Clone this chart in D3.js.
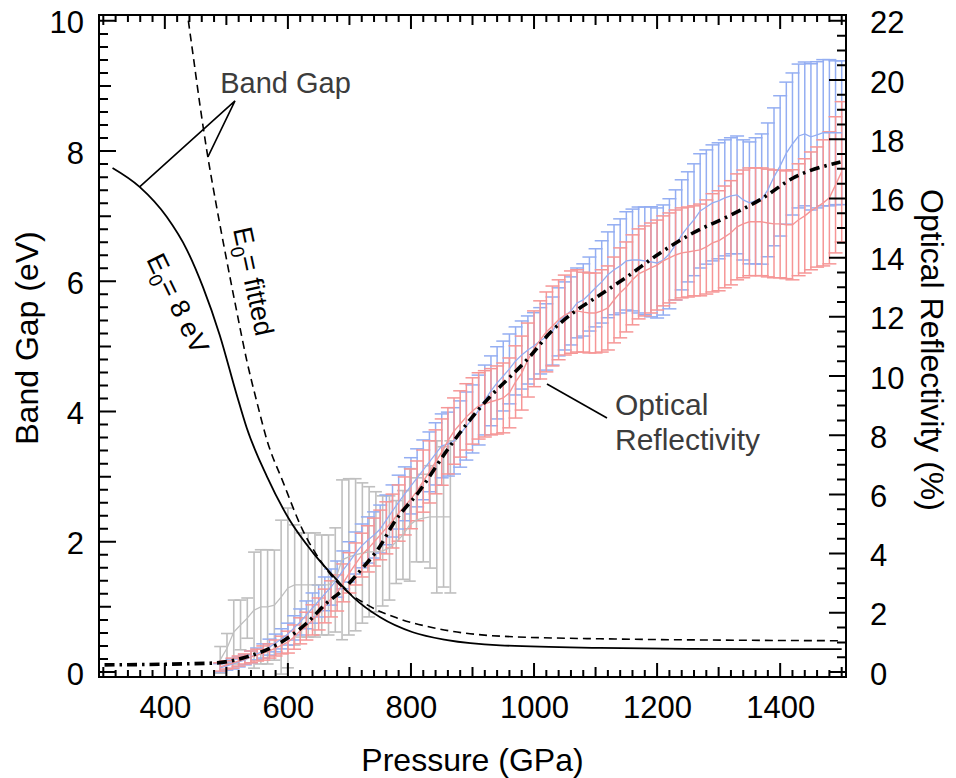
<!DOCTYPE html>
<html>
<head>
<meta charset="utf-8">
<script src="https://cdn.jsdelivr.net/npm/d3@7"></script>
<style>
  body { margin: 0; background: #fff; }
  svg { display: block; font-family: "Liberation Sans", Arial, Helvetica, sans-serif; }
</style>
</head>
<body>
<svg id="chart" width="956" height="778"></svg>
<script>
// ---------- data ----------
// Band gap models (pressure GPa, gap eV)
const gapFixedP = [315, 359, 403, 436, 462, 489, 517, 533, 566, 603, 641, 680, 706, 750, 803, 859, 945, 1107, 1250, 1500];
const gapFixedE = [7.74, 7.45, 6.99, 6.48, 5.91, 5.18, 4.25, 3.75, 3.00, 2.33, 1.83, 1.41, 1.15, 0.84, 0.61, 0.49, 0.41, 0.37, 0.355, 0.35];
const gapFitP = [430, 437, 447, 457, 468, 485, 501, 517, 533, 550, 566, 592, 624, 652, 680, 729, 777, 836, 945, 1107, 1500];
const gapFitE = [10.6, 10.09, 9.40, 8.71, 8.02, 7.10, 6.30, 5.53, 4.79, 4.13, 3.56, 2.92, 2.18, 1.72, 1.38, 1.03, 0.83, 0.68, 0.55, 0.51, 0.48];

// Reflectivity trend (pressure GPa, reflectivity %)
const trendP = [302, 478, 533, 587, 631, 663, 689, 717, 750, 771, 815, 859, 896, 928, 956, 993, 1026, 1063, 1102, 1151, 1205, 1259, 1314, 1367, 1421, 1498];
const trendR = [0.24, 0.30, 0.51, 0.98, 1.66, 2.33, 2.77, 3.41, 4.26, 5.00, 6.15, 7.50, 8.52, 9.29, 9.87, 10.65, 11.46, 12.13, 12.67, 13.35, 14.16, 14.84, 15.38, 15.95, 16.69, 17.23];

// Gray reflectivity series
const grayP = [490, 501, 512, 523, 534, 545, 556, 567, 578, 589, 600, 611, 622, 633, 644, 655, 666, 677, 688, 699, 710, 721, 732, 743, 754, 765, 776, 787, 798, 809, 820, 831, 842, 853, 864];
const grayR = [0.41, 0.80, 1.35, 1.59, 1.82, 2.09, 2.20, 2.20, 2.26, 2.53, 2.84, 2.94, 2.94, 2.94, 2.94, 2.94, 2.94, 3.11, 3.79, 3.89, 3.96, 4.02, 4.06, 4.06, 4.09, 4.19, 4.39, 4.63, 4.97, 5.14, 5.20, 5.24, 5.24, 5.24, 5.24];
const grayErr = [0.45, 0.50, 1.08, 0.84, 0.68, 1.96, 1.93, 1.93, 1.86, 2.60, 2.70, 2.03, 1.76, 1.76, 1.76, 1.69, 1.69, 1.76, 2.70, 2.64, 2.57, 2.37, 2.20, 2.03, 1.86, 1.76, 1.40, 1.50, 1.90, 1.42, 1.48, 1.73, 2.57, 2.37, 2.57];

// Blue and pink reflectivity series share the pressure grid
const seriesP = [
  490, 500, 510, 520, 530, 540, 550, 560, 570, 580,
  590, 600, 610, 620, 630, 640, 650, 660, 670, 680,
  690, 700, 710, 720, 730, 740, 750, 760, 770, 780,
  790, 800, 810, 820, 830, 840, 850, 860, 870, 880,
  890, 900, 910, 920, 930, 940, 950, 960, 970, 980,
  990, 1000, 1010, 1020, 1030, 1040, 1050, 1060, 1070, 1080,
  1090, 1100, 1110, 1120, 1130, 1140, 1150, 1160, 1170, 1180,
  1190, 1200, 1210, 1220, 1230, 1240, 1250, 1260, 1270, 1280,
  1290, 1300, 1310, 1320, 1330, 1340, 1350, 1360, 1370, 1380,
  1390, 1400, 1410, 1420, 1430, 1440, 1450, 1460, 1470, 1480,
  1490, 1500];

const blueR = [
  0.14, 0.20, 0.27, 0.34, 0.41, 0.51, 0.61, 0.71, 0.84, 0.98,
  1.12, 1.28, 1.49, 1.69, 1.93, 2.16, 2.40, 2.64, 2.87, 3.14,
  3.45, 3.72, 4.02, 4.26, 4.46, 4.63, 4.83, 5.14, 5.44, 5.74,
  6.02, 6.29, 6.56, 6.83, 7.10, 7.37, 7.64, 7.70, 7.81, 8.04,
  8.31, 8.55, 8.85, 9.19, 9.50, 9.77, 10.00, 10.24, 10.51, 10.71,
  10.88, 11.02, 11.19, 11.32, 11.52, 11.83, 12.03, 12.20, 12.47, 12.57,
  12.77, 12.98, 13.18, 13.42, 13.59, 13.72, 13.89, 13.92, 13.92, 13.89,
  13.86, 13.82, 13.92, 14.13, 14.43, 14.77, 15.04, 15.28, 15.58, 15.71,
  15.85, 15.92, 16.02, 16.09, 16.12, 15.95, 15.85, 15.92, 15.98, 16.29,
  16.73, 17.10, 17.53, 17.84, 18.11, 18.18, 18.08, 18.15, 18.22, 18.22,
  18.22, 18.22];
const blueErr = [
  0.14, 0.14, 0.17, 0.17, 0.17, 0.20, 0.20, 0.24, 0.27, 0.30,
  0.34, 0.37, 0.41, 0.44, 0.47, 0.51, 0.54, 0.57, 0.61, 0.61,
  0.64, 0.68, 0.71, 0.74, 0.78, 0.78, 0.81, 0.84, 0.88, 0.91,
  0.91, 0.95, 0.98, 1.01, 1.01, 1.05, 1.08, 1.08, 1.12, 1.12,
  1.15, 1.15, 1.18, 1.18, 1.18, 1.22, 1.18, 1.18, 1.15, 1.15,
  1.15, 1.12, 1.12, 1.12, 1.15, 1.15, 1.15, 1.15, 1.18, 1.22,
  1.25, 1.32, 1.39, 1.45, 1.52, 1.59, 1.66, 1.72, 1.79, 1.82,
  1.86, 1.86, 1.86, 1.86, 1.86, 1.86, 1.86, 1.89, 1.93, 1.93,
  1.96, 1.96, 1.96, 1.96, 1.99, 2.03, 2.06, 2.13, 2.20, 2.26,
  2.33, 2.37, 2.40, 2.40, 2.43, 2.43, 2.47, 2.47, 2.47, 2.47,
  2.43, 2.43];

const pinkR = [
  0.17, 0.24, 0.30, 0.37, 0.44, 0.51, 0.57, 0.64, 0.71, 0.81,
  0.91, 1.01, 1.18, 1.39, 1.55, 1.76, 1.96, 2.23, 2.47, 2.67,
  3.01, 3.35, 3.65, 3.95, 4.16, 4.39, 4.63, 4.87, 5.10, 5.37,
  5.61, 5.85, 6.12, 6.45, 6.76, 7.10, 7.43, 7.81, 8.14, 8.38,
  8.62, 8.82, 8.99, 9.06, 9.13, 9.19, 9.26, 9.43, 9.80, 10.10,
  10.54, 10.92, 11.22, 11.49, 11.69, 11.90, 12.06, 12.16, 12.20, 12.16,
  12.13, 12.13, 12.20, 12.30, 12.57, 12.81, 13.01, 13.25, 13.45, 13.55,
  13.65, 13.75, 13.89, 13.99, 14.09, 14.16, 14.19, 14.23, 14.26, 14.36,
  14.50, 14.57, 14.70, 14.84, 15.04, 15.14, 15.21, 15.21, 15.21, 15.17,
  15.14, 15.14, 15.11, 15.11, 15.28, 15.41, 15.58, 15.71, 15.85, 16.02,
  16.46, 16.90];
const pinkErr = [
  0.14, 0.14, 0.17, 0.17, 0.17, 0.20, 0.20, 0.24, 0.24, 0.27,
  0.30, 0.37, 0.41, 0.44, 0.47, 0.51, 0.54, 0.57, 0.61, 0.61,
  0.64, 0.68, 0.71, 0.74, 0.78, 0.81, 0.84, 0.88, 0.91, 0.95,
  0.98, 1.01, 1.01, 1.05, 1.05, 1.08, 1.12, 1.12, 1.12, 1.12,
  1.12, 1.12, 1.12, 1.12, 1.12, 1.15, 1.18, 1.18, 1.22, 1.25,
  1.25, 1.28, 1.32, 1.35, 1.35, 1.35, 1.35, 1.39, 1.39, 1.35,
  1.35, 1.35, 1.39, 1.42, 1.45, 1.52, 1.52, 1.52, 1.52, 1.52,
  1.52, 1.52, 1.52, 1.52, 1.52, 1.52, 1.52, 1.52, 1.55, 1.59,
  1.66, 1.69, 1.72, 1.76, 1.79, 1.82, 1.82, 1.82, 1.82, 1.82,
  1.82, 1.82, 1.82, 1.86, 1.89, 1.93, 1.99, 2.03, 2.13, 2.23,
  2.30, 2.37];

// Axis ticks
const pressureTicks = [400, 600, 800, 1000, 1200, 1400];
const pressureMid = [300, 500, 700, 900, 1100, 1300, 1500];
const gapTicks = [0, 2, 4, 6, 8, 10];
const gapMid = [1, 3, 5, 7, 9];
const reflTicks = [0, 2, 4, 6, 8, 10, 12, 14, 16, 18, 20, 22];

// ---------- layout ----------
const L = 99, R = 846, T = 15, B = 677;
const svg = d3.select("#chart");

const x = d3.scaleLinear().domain([293, 1507]).range([L, R]);
const yGap = d3.scaleLinear().domain([-0.077, 10.09]).range([B, T]);
const yRef = d3.scaleLinear().domain([-0.077 * 2.2, 10.09 * 2.2]).range([B, T]);

const colors = { gray: "#bfbfbf", blue: "#94aef2", pink: "#f69696" };

svg.append("defs").append("clipPath").attr("id", "plot-clip")
  .append("rect").attr("x", L).attr("y", T).attr("width", R - L).attr("height", B - T);

const plot = svg.append("g").attr("clip-path", "url(#plot-clip)");

// ---------- error bar series ----------
function drawBars(P, M, E, color, capHalf, width) {
  const pts = P.map((p, i) => ({ p, m: M[i], e: E[i] }));
  const g = plot.append("g").attr("stroke", color).attr("stroke-width", width).attr("fill", "none");
  const items = g.selectAll("g").data(pts).enter().append("g");
  items.append("line")
    .attr("x1", d => x(d.p)).attr("x2", d => x(d.p))
    .attr("y1", d => yRef(d.m - d.e)).attr("y2", d => yRef(d.m + d.e));
  items.append("line")
    .attr("x1", d => x(d.p) - capHalf).attr("x2", d => x(d.p) + capHalf)
    .attr("y1", d => yRef(d.m + d.e)).attr("y2", d => yRef(d.m + d.e));
  items.append("line")
    .attr("x1", d => x(d.p) - capHalf).attr("x2", d => x(d.p) + capHalf)
    .attr("y1", d => yRef(d.m - d.e)).attr("y2", d => yRef(d.m - d.e));
  return pts;
}
function drawMeanLine(pts, color, width) {
  plot.append("path").datum(pts)
    .attr("fill", "none").attr("stroke", color).attr("stroke-width", width)
    .attr("d", d3.line().x(d => x(d.p)).y(d => yRef(d.m)));
}

const grayPts = drawBars(grayP, grayR, grayErr, colors.gray, 6, 1.6);
const bluePts = drawBars(seriesP, blueR, blueErr, colors.blue, 7, 1.5);
const pinkPts = drawBars(seriesP, pinkR, pinkErr, colors.pink, 7, 1.5);
drawMeanLine(grayPts, colors.gray, 1.3);
drawMeanLine(bluePts, colors.blue, 1.3);
drawMeanLine(pinkPts, colors.pink, 1.4);

// ---------- reflectivity trend ----------
plot.append("path")
  .datum(trendP.map((p, i) => [p, trendR[i]]))
  .attr("fill", "none").attr("stroke", "#000").attr("stroke-width", 3.6)
  .attr("stroke-dasharray", "10,5,2.5,5")
  .attr("d", d3.line().x(d => x(d[0])).y(d => yRef(d[1])).curve(d3.curveMonotoneX));

// ---------- band gap curves ----------
plot.append("path")
  .datum(gapFixedP.map((p, i) => [p, gapFixedE[i]]))
  .attr("fill", "none").attr("stroke", "#000").attr("stroke-width", 1.8)
  .attr("d", d3.line().x(d => x(d[0])).y(d => yGap(d[1])).curve(d3.curveMonotoneX));
plot.append("path")
  .datum(gapFitP.map((p, i) => [p, gapFitE[i]]))
  .attr("fill", "none").attr("stroke", "#000").attr("stroke-width", 1.6)
  .attr("stroke-dasharray", "8,5")
  .attr("d", d3.line().x(d => x(d[0])).y(d => yGap(d[1])).curve(d3.curveMonotoneX));

// ---------- annotations ----------
const ann = svg.append("g");
ann.append("text").attr("x", x(490)).attr("y", yGap(8.89))
  .attr("font-size", 29).attr("fill", "#3c3c3c").text("Band Gap");
ann.append("path")
  .attr("d", `M${x(359)},${yGap(7.45)} L${x(514)},${yGap(8.77)} L${x(470)},${yGap(7.91)}`)
  .attr("fill", "none").attr("stroke", "#000").attr("stroke-width", 1.6);

function rotatedLabel(p, e, angle, rest) {
  const t = ann.append("text")
    .attr("transform", `translate(${x(p)},${yGap(e)}) rotate(${angle})`)
    .attr("font-size", 27).attr("fill", "#000");
  t.append("tspan").text("E");
  t.append("tspan").attr("font-size", 19).attr("dy", 7).text("0");
  t.append("tspan").attr("dy", -7).text(rest);
}
rotatedLabel(369.4, 6.34, 64, "= 8 eV");
rotatedLabel(510.8, 6.80, 78, "= fitted");

ann.append("line")
  .attr("x1", x(1021)).attr("y1", yRef(9.73)).attr("x2", x(1118.6)).attr("y2", yRef(8.58))
  .attr("stroke", "#000").attr("stroke-width", 1.6);
ann.append("text").attr("x", x(1131.6)).attr("y", yRef(8.68))
  .attr("font-size", 30).attr("fill", "#3c3c3c").text("Optical");
ann.append("text").attr("x", x(1131.6)).attr("y", yRef(7.50))
  .attr("font-size", 30).attr("fill", "#3c3c3c").text("Reflectivity");

// ---------- axes ----------
// tick labels
function labels(axisFn, scale, values, translate, pad, dy) {
  const g = svg.append("g").attr("transform", translate)
    .call(axisFn(scale).tickValues(values).tickSize(0).tickPadding(pad).tickFormat(d3.format("d")));
  g.select(".domain").remove();
  g.selectAll(".tick line").remove();
  g.selectAll("text").attr("font-size", 31).attr("fill", "#000")
    .attr("font-family", '"Liberation Sans", Arial, Helvetica, sans-serif');
  if (dy) g.selectAll("text").attr("dy", dy);
}
labels(d3.axisBottom, x, pressureTicks, `translate(0,${B})`, 19);
labels(d3.axisLeft, yGap, gapTicks, `translate(${L},0)`, 15, "0.39em");
labels(d3.axisRight, yRef, reflTicks, `translate(${R},0)`, 24, "0.39em");

// frame
svg.append("rect").attr("x", L).attr("y", T).attr("width", R - L).attr("height", B - T)
  .attr("fill", "none").attr("stroke", "#000").attr("stroke-width", 2);

// tick marks point into the frame; each set is one path
function tickPath(segments) {
  svg.append("path").attr("d", segments.join(""))
    .attr("fill", "none").attr("stroke", "#000").attr("stroke-width", 2);
}
const pMinor = d3.range(300, 1501, 20).filter(v => v % 100 !== 0);
[[pressureTicks, 14], [pressureMid, 10], [pMinor, 7]].forEach(([vals, len]) => {
  tickPath(vals.map(v => `M${x(v)},${B}v${-len}M${x(v)},${T}v${len}`));
});
const gMinor = d3.range(0, 51).map(i => i * 0.2).filter(v => Math.abs(v - Math.round(v)) > 0.01);
[[gapTicks, 17], [gapMid, 12], [gMinor, 9]].forEach(([vals, len]) => {
  tickPath(vals.map(v => `M${L},${yGap(v)}h${len}`));
});
const rMinor = d3.range(0, 45).map(i => i * 0.5).filter(v => v % 2 !== 0);
[[reflTicks, 17], [rMinor, 9]].forEach(([vals, len]) => {
  tickPath(vals.map(v => `M${R},${yRef(v)}h${-len}`));
});

// axis titles
svg.append("text").attr("transform", `translate(38,338) rotate(-90)`)
  .attr("text-anchor", "middle").attr("font-size", 32).text("Band Gap (eV)");
svg.append("text").attr("transform", `translate(921,350) rotate(90)`)
  .attr("text-anchor", "middle").attr("font-size", 32).text("Optical Reflectivity (%)");
svg.append("text").attr("x", (L + R) / 2).attr("y", 771)
  .attr("text-anchor", "middle").attr("font-size", 32).text("Pressure (GPa)");
</script>
</body>
</html>
